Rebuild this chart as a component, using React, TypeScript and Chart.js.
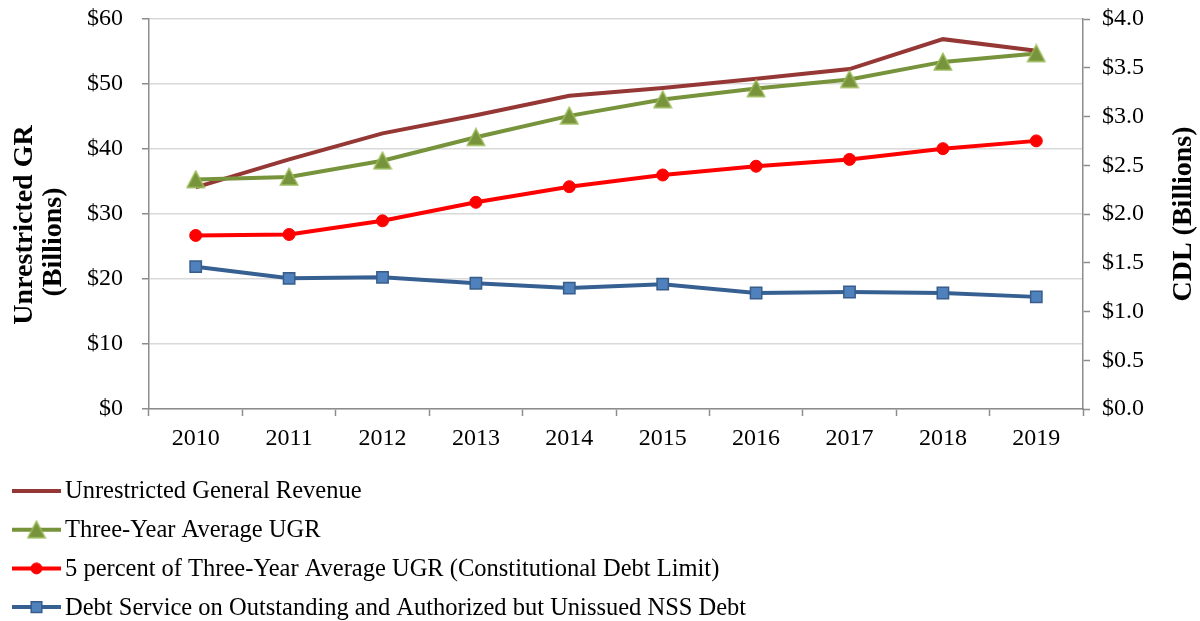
import React, { useEffect, useRef } from 'react';
import { Chart, registerables } from 'chart.js';

Chart.register(...registerables);

// ---- data ----
const years = ['2010', '2011', '2012', '2013', '2014', '2015', '2016', '2017', '2018', '2019'];
const unrestrictedGR = [34.1, 38.4, 42.4, 45.2, 48.2, 49.4, 50.8, 52.3, 56.9, 55.1];
const threeYearAvgUGR = [35.3, 35.7, 38.2, 41.8, 45.1, 47.6, 49.3, 50.7, 53.4, 54.7];
const constitutionalDebtLimit = [1.78, 1.79, 1.93, 2.12, 2.28, 2.4, 2.49, 2.56, 2.67, 2.75];
const debtServiceNSS = [1.46, 1.34, 1.35, 1.29, 1.24, 1.28, 1.19, 1.2, 1.19, 1.15];

const seriesLabels = [
  'Unrestricted General Revenue',
  'Three-Year Average UGR',
  '5 percent of Three-Year Average UGR (Constitutional Debt Limit)',
  'Debt Service on Outstanding and Authorized but Unissued NSS Debt',
];
const leftTitleLines = ['Unrestricted GR', '(Billions)'];
const rightTitle = 'CDL (Billions)';

const FONT = "'Liberation Serif', 'Times New Roman', serif";
const AXIS_COLOR = '#8c8c8c';

function makeTriangle(): HTMLCanvasElement {
  const c = document.createElement('canvas');
  c.width = 20;
  c.height = 20;
  const g = c.getContext('2d') as CanvasRenderingContext2D;
  g.beginPath();
  g.moveTo(10, 1.5);
  g.lineTo(18.6, 18);
  g.lineTo(1.4, 18);
  g.closePath();
  g.fillStyle = '#77933C';
  g.fill();
  g.strokeStyle = '#9BBB59';
  g.lineWidth = 1.5;
  g.stroke();
  return c;
}

function drawMarker(ctx: CanvasRenderingContext2D, ds: any, x: number, y: number) {
  const style = ds.pointStyle;
  if (style && typeof style === 'object') {
    ctx.drawImage(style, x - style.width / 2, y - style.height / 2);
    return;
  }
  const r = style === 'circle' ? 5.5 : style === 'rect' ? 7.5 : 0;
  if (!r) return;
  ctx.save();
  ctx.fillStyle = ds.pointBackgroundColor;
  ctx.strokeStyle = ds.pointBorderColor;
  ctx.lineWidth = ds.pointBorderWidth || 1;
  ctx.beginPath();
  if (style === 'rect') {
    const s = r * Math.SQRT1_2;
    ctx.rect(x - s, y - s, 2 * s, 2 * s);
  } else {
    ctx.arc(x, y, r, 0, Math.PI * 2);
  }
  ctx.fill();
  ctx.stroke();
  ctx.restore();
}

const legendPlugin = {
  id: 'verticalLegend',
  afterDraw(chart: any) {
    const ctx: CanvasRenderingContext2D = chart.ctx;
    ctx.save();
    chart.data.datasets.forEach((ds: any, i: number) => {
      const y = 491 + i * 38.7;
      ctx.strokeStyle = ds.borderColor;
      ctx.lineWidth = 4;
      ctx.beginPath();
      ctx.moveTo(12, y);
      ctx.lineTo(61, y);
      ctx.stroke();
      if (ds.pointRadius) drawMarker(ctx, ds, 36.5, y);
      ctx.fillStyle = '#000';
      ctx.font = `24.5px ${FONT}`;
      ctx.textAlign = 'left';
      ctx.textBaseline = 'middle';
      ctx.fillText(ds.label, 65, y + 1);
    });
    ctx.restore();
  },
};

const axisTitlePlugin = {
  id: 'axisTitles',
  afterDraw(chart: any) {
    const ctx: CanvasRenderingContext2D = chart.ctx;
    const area = chart.chartArea;
    const midY = (area.top + area.bottom) / 2;
    ctx.save();
    ctx.fillStyle = '#000';
    ctx.font = `bold 28px ${FONT}`;
    ctx.textAlign = 'center';
    ctx.textBaseline = 'middle';
    // left title (two lines, reading bottom-to-top)
    const leftX = [25, 54];
    const leftY = [midY + 11, midY + 28];
    leftTitleLines.forEach((t, i) => {
      ctx.save();
      ctx.translate(leftX[i], leftY[i]);
      ctx.rotate(-Math.PI / 2);
      ctx.fillText(t, 0, 0);
      ctx.restore();
    });
    // right title
    ctx.save();
    ctx.translate(1184, midY);
    ctx.rotate(-Math.PI / 2);
    ctx.fillText(rightTitle, 0, 0);
    ctx.restore();
    ctx.restore();
  },
};

export default function App() {
  const ref = useRef<HTMLCanvasElement | null>(null);

  useEffect(() => {
    document.body.style.margin = '0';
    const canvas = ref.current;
    if (!canvas) return;
    const triangle = makeTriangle();
    const chart = new Chart(canvas, {
      type: 'line',
      data: {
        labels: years,
        datasets: [
          {
            label: seriesLabels[0],
            data: unrestrictedGR,
            yAxisID: 'y',
            borderColor: '#953735',
            backgroundColor: '#953735',
            borderWidth: 4,
            pointRadius: 0,
            pointHoverRadius: 0,
            tension: 0,
            order: 4,
          },
          {
            label: seriesLabels[1],
            data: threeYearAvgUGR,
            yAxisID: 'y',
            borderColor: '#77933C',
            backgroundColor: '#77933C',
            borderWidth: 4,
            pointStyle: triangle,
            pointRadius: 10,
            pointBackgroundColor: '#77933C',
            pointBorderColor: '#9BBB59',
            pointBorderWidth: 1.5,
            tension: 0,
            order: 3,
          },
          {
            label: seriesLabels[2],
            data: constitutionalDebtLimit,
            yAxisID: 'y2',
            borderColor: '#FF0000',
            backgroundColor: '#FF0000',
            borderWidth: 4,
            pointStyle: 'circle',
            pointRadius: 6,
            pointBackgroundColor: '#FF0000',
            pointBorderColor: '#FF0000',
            pointBorderWidth: 1,
            tension: 0,
            order: 2,
          },
          {
            label: seriesLabels[3],
            data: debtServiceNSS,
            yAxisID: 'y2',
            borderColor: '#376092',
            backgroundColor: '#4F81BD',
            borderWidth: 4,
            pointStyle: 'rect',
            pointRadius: 8,
            pointBackgroundColor: '#4F81BD',
            pointBorderColor: '#385D8A',
            pointBorderWidth: 1.5,
            tension: 0,
            order: 1,
          },
        ],
      },
      options: {
        responsive: false,
        animation: false,
        layout: { padding: { top: 19, left: 0, right: 0, bottom: 0 } },
        plugins: {
          legend: { display: false },
          tooltip: { enabled: false },
          title: { display: false },
        },
        scales: {
          x: {
            type: 'category',
            offset: true,
            afterFit: (scale: any) => {
              scale.height = 212;
              scale.paddingLeft = 0;
              scale.paddingRight = 0;
            },
            grid: {
              offset: true,
              drawOnChartArea: false,
              drawTicks: true,
              tickLength: 7,
              tickColor: AXIS_COLOR,
              tickWidth: 1.5,
            },
            border: { color: AXIS_COLOR, width: 1.5 },
            ticks: {
              color: '#000',
              font: { family: FONT, size: 24 },
              padding: 8,
              maxRotation: 0,
              autoSkip: false,
            },
          },
          y: {
            position: 'left',
            min: 0,
            max: 60,
            afterFit: (scale: any) => {
              scale.width = 149;
              scale.paddingTop = 0;
              scale.paddingBottom = 0;
            },
            grid: {
              color: '#d9d9d9',
              lineWidth: 1.5,
              drawTicks: true,
              tickLength: 7,
              tickColor: AXIS_COLOR,
              tickWidth: 1.5,
            },
            border: { color: AXIS_COLOR, width: 1.5 },
            ticks: {
              stepSize: 10,
              color: '#000',
              font: { family: FONT, size: 24 },
              padding: 19,
              callback: (v: any) => '$' + v,
            },
          },
          y2: {
            position: 'right',
            min: 0,
            max: 4,
            afterFit: (scale: any) => {
              scale.width = 117;
              scale.paddingTop = 0;
              scale.paddingBottom = 0;
            },
            grid: {
              drawOnChartArea: false,
              drawTicks: true,
              tickLength: 7,
              tickColor: AXIS_COLOR,
              tickWidth: 1.5,
            },
            border: { color: AXIS_COLOR, width: 1.5 },
            ticks: {
              stepSize: 0.5,
              color: '#000',
              font: { family: FONT, size: 24 },
              padding: 12,
              callback: (v: any) => '$' + Number(v).toFixed(1),
            },
          },
        },
      },
      plugins: [legendPlugin, axisTitlePlugin],
    });
    return () => {
      chart.destroy();
    };
  }, []);

  return (
    <div style={{ width: 1200, height: 621, background: '#fff' }}>
      <canvas ref={ref} width={1200} height={621} style={{ display: 'block' }} />
    </div>
  );
}
